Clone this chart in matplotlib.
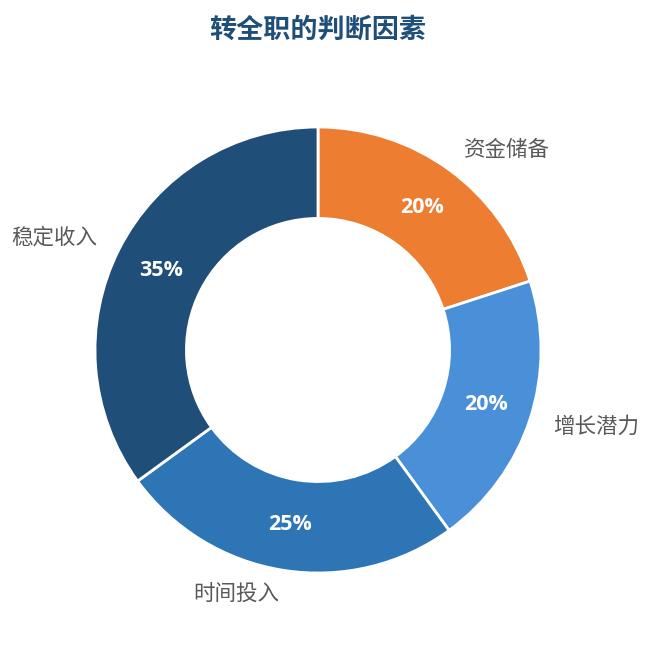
import numpy as np
import matplotlib
matplotlib.use("Agg")
import matplotlib.pyplot as plt

plt.rcParams['font.family'] = ['Noto Sans CJK SC', 'DejaVu Sans']

# Dados
categorias = ["资金储备", "增长潜力", "时间投入", "稳定收入"]
valores = [20, 20, 25, 35]
cores = ["#ED7D31", "#4A90D9", "#2E75B6", "#1F4E79"]

fig = plt.figure(figsize=(6.51, 6.45), dpi=100)
# eixo quadrado centrado no donut
ax = fig.add_axes([(318 - 223) / 651, (645 - 350 - 223) / 645, 446 / 651, 446 / 645])

wedges, textos, pcts = ax.pie(
    valores, labels=categorias, colors=cores, startangle=90, counterclock=False,
    radius=1.0, labeldistance=1.11, pctdistance=0.79,
    autopct=lambda p: f"{p:.0f}%",
    wedgeprops=dict(width=0.41, edgecolor="white", linewidth=2),
    textprops=dict(fontsize=15.5, color="#595959"),
)

for p in pcts:
    p.set_color("white")
    p.set_fontsize(15.5)
    p.set_fontweight("bold")
    p.set_family(["Open Sans", "DejaVu Sans"])

ax.set_xlim(-1, 1)
ax.set_ylim(-1, 1)
ax.set_aspect("equal")
ax.axis("off")

fig.text(318 / 651, 1 - 30 / 645, "转全职的判断因素", ha="center", va="center",
         fontsize=19.5, fontweight="bold", color="#1F4E79")

fig.savefig("out.png", dpi=100)
